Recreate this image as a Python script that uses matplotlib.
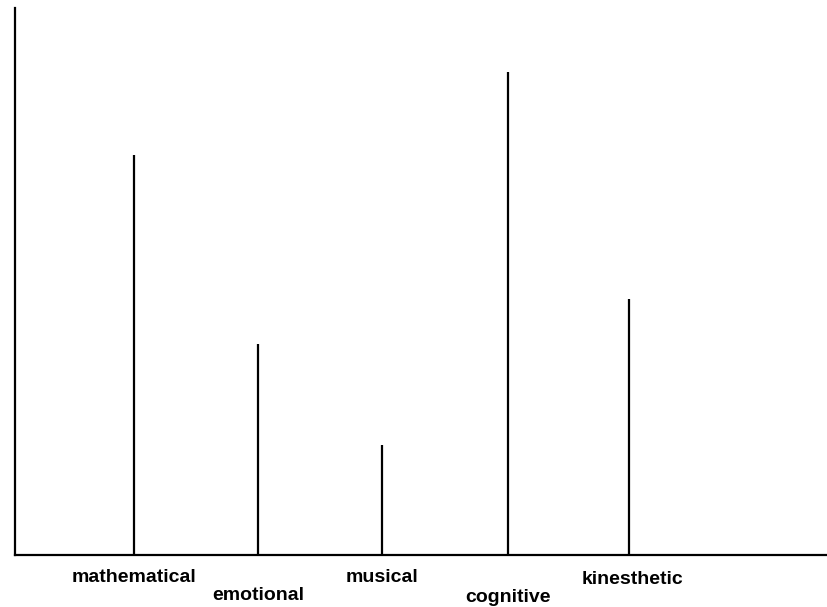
import numpy as np
import matplotlib.pyplot as plt
import matplotlib.transforms as mtransforms

categories = ['mathematical', 'emotional', 'musical', 'cognitive', 'kinesthetic']
values = [400, 211, 110, 483, 256]
positions = [1, 2, 3, 4.02, 5]
label_drop = [22, 41, 22, 42, 24]   # px below the axis, staggered
label_shift = [0, 0, 0, 0, 3]

plt.rcParams['font.family'] = ['Liberation Sans', 'DejaVu Sans']

fig = plt.figure(figsize=(8.27, 6.07), dpi=100)
ax = fig.add_axes([15 / 827, 52 / 607, 812 / 827, 547 / 607])

ax.vlines(positions, 0, values, color='black', linewidth=1.6)

ax.set_xlim(0.038, 6.60)
ax.set_ylim(0, 547)
ax.spines['top'].set_visible(False)
ax.spines['right'].set_visible(False)
ax.spines['left'].set_linewidth(1.6)
ax.spines['bottom'].set_linewidth(1.6)
ax.set_xticks([])
ax.set_yticks([])

trans = mtransforms.blended_transform_factory(ax.transData, ax.transAxes)
for xi, name, d, s in zip(positions, categories, label_drop, label_shift):
    off = mtransforms.offset_copy(trans, fig=fig, x=s, y=-d, units='dots')
    ax.text(xi, 0, name, transform=off, ha='center', va='center',
            fontsize=14, fontweight='bold')

plt.savefig('out.png', dpi=100)
